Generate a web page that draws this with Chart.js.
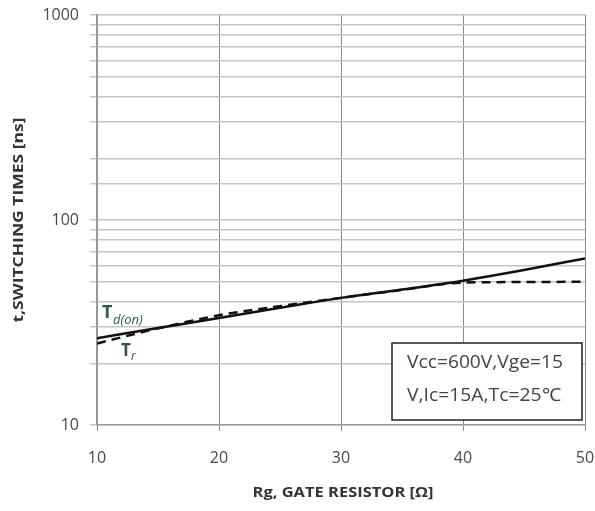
<!DOCTYPE html>
<html>
<head>
<meta charset="utf-8">
<script src="https://cdn.jsdelivr.net/npm/chart.js@4.4.1/dist/chart.umd.min.js"></script>
<style>
  html, body { margin: 0; padding: 0; background: #fff; }
  #wrap { width: 595px; height: 511px; }
</style>
</head>
<body>
<div id="wrap"><canvas id="swChart" width="595" height="511"></canvas></div>
<script>
// Rg (ohm) on the x axis
const rgValues = [10, 15, 20, 25, 30, 35, 40, 45, 50];
// switching times in ns
const tdOn = [26.5, 29.7, 33.3, 37.3, 41.7, 45.8, 50.6, 57, 65];
const tRise = [25, 29.6, 34.3, 38, 41.7, 45.6, 49.5, 49.8, 50];
const xTicks = [10, 20, 30, 40, 50];
const yLabels = [10, 100, 1000];

const conditionLines = ['Vcc=600V,Vge=15', 'V,Ic=15A,Tc=25\u2103'];

// draw text squeezed/stretched to a given width
function fitText(ctx, text, x, y, width) {
    const w = ctx.measureText(text).width;
    ctx.save();
    ctx.translate(x, y);
    ctx.scale(width / w, 1);
    ctx.fillText(text, 0, 0);
    ctx.restore();
}

// Text that sits on top of the plot: axis titles, curve names, condition box
const overlayText = {
    id: 'overlayText',
    afterDraw(chart) {
        const ctx = chart.ctx;
        ctx.save();

        // y axis title
        ctx.fillStyle = '#333';
        ctx.font = 'bold 14px "Open Sans"';
        ctx.textAlign = 'center';
        ctx.textBaseline = 'middle';
        ctx.save();
        ctx.translate(19, 220);
        ctx.rotate(-Math.PI / 2);
        fitText(ctx, 't,SWITCHING TIMES [ns]', 0, 0, 205);
        ctx.restore();

        // x axis title
        ctx.font = 'bold 15px "Open Sans"';
        fitText(ctx, 'Rg, GATE RESISTOR [\u03a9]', 343, 493, 181);

        // curve names
        ctx.fillStyle = '#2e5a4c';
        ctx.textAlign = 'left';
        ctx.font = 'bold 18px "Open Sans"';
        ctx.fillText('T', 102, 313);
        ctx.font = 'italic 13px "Open Sans"';
        ctx.fillText('d(on)', 113, 320);
        ctx.font = 'bold 17px "Open Sans"';
        ctx.fillText('T', 121, 351);
        ctx.font = 'italic 12px "Open Sans"';
        ctx.fillText('r', 131, 357);

        // condition box
        ctx.fillStyle = '#fff';
        ctx.fillRect(392, 343, 190, 77);
        ctx.strokeStyle = '#222';
        ctx.lineWidth = 1.5;
        ctx.strokeRect(392, 343, 190, 77);
        ctx.fillStyle = '#4a4048';
        ctx.font = '18px "Open Sans"';
        ctx.textAlign = 'left';
        fitText(ctx, conditionLines[0], 407, 363, 156);
        fitText(ctx, conditionLines[1], 407, 396, 154);

        ctx.restore();
    }
};

const ctx = document.getElementById('swChart').getContext('2d');
new Chart(ctx, {
    type: 'line',
    data: {
        labels: rgValues,
        datasets: [{
            label: 'Td(on)',
            data: rgValues.map((x, i) => ({ x: x, y: tdOn[i] })),
            borderColor: '#111',
            borderWidth: 2.5,
            pointRadius: 0,
            cubicInterpolationMode: 'monotone',
            fill: false
        }, {
            label: 'Tr',
            data: rgValues.map((x, i) => ({ x: x, y: tRise[i] })),
            borderColor: '#111',
            borderWidth: 2.5,
            borderDash: [9, 6],
            pointRadius: 0,
            cubicInterpolationMode: 'monotone',
            fill: false
        }]
    },
    options: {
        responsive: false,
        animation: false,
        devicePixelRatio: 1,
        layout: { padding: { top: 15, right: 10, left: 0, bottom: 0 } },
        plugins: {
            legend: { display: false },
            tooltip: { enabled: false }
        },
        scales: {
            x: {
                type: 'linear',
                min: 10,
                max: 50,
                afterBuildTicks(scale) {
                    scale.ticks = xTicks.map(v => ({ value: v }));
                },
                afterFit(scale) {
                    scale.height = 86;
                    scale.paddingLeft = 0;
                    scale.paddingRight = 0;
                },
                grid: {
                    color: '#8a8a8a',
                    lineWidth: 1,
                    tickLength: 6,
                    drawTicks: true
                },
                border: { color: '#9a9a9a', width: 1.5 },
                ticks: {
                    color: '#4a4a4a',
                    font: { family: 'Open Sans', size: 16 },
                    padding: 18
                }
            },
            y: {
                type: 'logarithmic',
                min: 10,
                max: 1000,
                afterFit(scale) {
                    scale.width = 97;
                    scale.paddingTop = 0;
                    scale.paddingBottom = 0;
                },
                grid: {
                    color: '#c4c4c4',
                    lineWidth: 1.5,
                    tickLength: 7
                },
                border: { color: '#9a9a9a', width: 1.5 },
                ticks: {
                    autoSkip: false,
                    color: '#4a4a4a',
                    font: { family: 'Open Sans', size: 16 },
                    padding: 11,
                    callback: function (v) {
                        return yLabels.includes(v) ? String(v) : '';
                    }
                }
            }
        }
    },
    plugins: [overlayText]
});
</script>
</body>
</html>
